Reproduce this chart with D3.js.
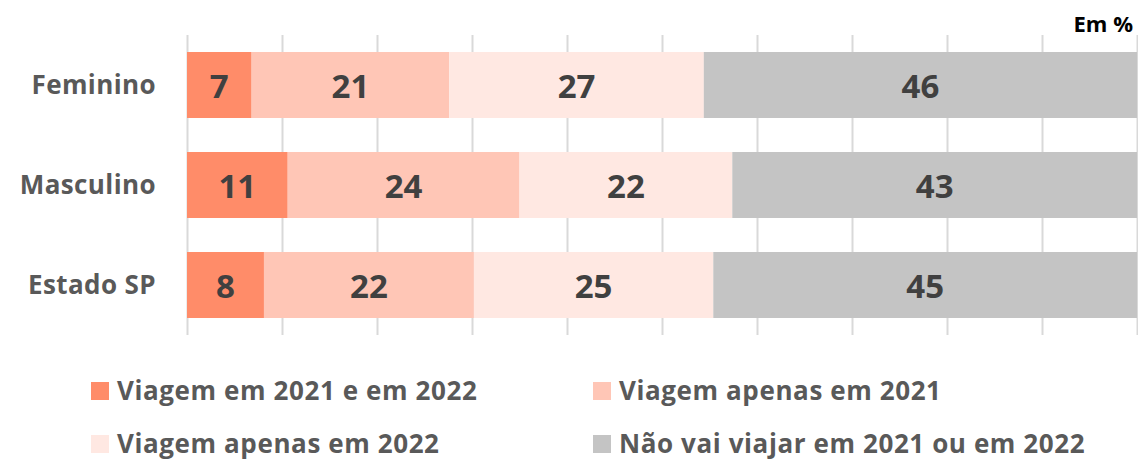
<!DOCTYPE html>
<html><head><meta charset="utf-8">
<script src="https://cdn.jsdelivr.net/npm/d3@7"></script>
<style>body{margin:0;background:#fff}svg{display:block}</style>
</head><body>
<svg id="c" width="1138" height="459"></svg>
<script>
const categories = ["Feminino", "Masculino", "Estado SP"];
const seriesNames = ["Viagem em 2021 e em 2022", "Viagem apenas em 2021", "Viagem apenas em 2022", "Não vai viajar em 2021 ou em 2022"];
const s1 = [6.8, 10.6, 8.1];
const s2 = [20.8, 24.4, 22.1];
const s3 = [26.8, 22.4, 25.2];
const s4 = [45.6, 42.6, 44.6];
const xTicks = [0,10,20,30,40,50,60,70,80,90,100];
const colors = ["#FF8C69", "#FFC6B6", "#FFE8E2", "#C4C4C4"];

const svg = d3.select("#c");
const font = "'Open Sans', Lato, sans-serif";
const x = d3.scaleLinear().domain([0,100]).range([187, 1137]);
const y = d3.scaleBand().domain(categories).range([35, 335]).paddingInner(0.34).paddingOuter(0.17);

// gridlines
svg.append("g")
  .attr("transform","translate(0,35)")
  .call(d3.axisBottom(x).tickValues(xTicks).tickSize(300).tickFormat(""))
  .call(g=>g.select(".domain").remove())
  .call(g=>g.selectAll("line").attr("stroke","#D9D9D9").attr("stroke-width",2));

const rows = categories.map((c,i)=>({cat:c, v:[s1[i],s2[i],s3[i],s4[i]]}));
const keys = [0,1,2,3];
const table = rows.map(r=>{const o={cat:r.cat}; keys.forEach(k=>o[k]=r.v[k]); return o;});
const stack = d3.stack().keys(keys)(table);

const layers = svg.append("g").selectAll("g").data(stack).join("g").attr("fill",(d,i)=>colors[i]);
layers.selectAll("rect").data(d=>d).join("rect")
  .attr("x",d=>x(d[0])).attr("width",d=>x(d[1])-x(d[0]))
  .attr("y",d=>y(d.data.cat)).attr("height",y.bandwidth());

svg.append("g").selectAll("g").data(stack).join("g").selectAll("text").data(d=>d).join("text")
  .attr("x",d=>(x(d[0])+x(d[1]))/2).attr("y",d=>y(d.data.cat)+y.bandwidth()/2+13)
  .attr("text-anchor","middle")
  .attr("font-family",font).attr("font-weight","bold").attr("font-size",33).attr("fill","#404040")
  .text(d=>Math.round(d[1]-d[0]));

// category labels
svg.append("g").selectAll("text").data(categories).join("text")
  .attr("x",156).attr("y",d=>y(d)+y.bandwidth()/2+9)
  .attr("text-anchor","end")
  .attr("font-family",font).attr("font-weight","bold").attr("font-size",26).attr("letter-spacing",0.4).attr("fill","#595959")
  .text(d=>d);

// Em %
svg.append("text").attr("x",1133).attr("y",32).attr("text-anchor","end")
  .attr("font-family",font).attr("font-weight","bold").attr("font-size",22).attr("fill","#000")
  .text("Em %");

// legend
const legPos = [[91,382],[593,382],[91,435],[593,435]];
const leg = svg.append("g").selectAll("g").data(seriesNames).join("g")
  .attr("transform",(d,i)=>`translate(${legPos[i][0]},${legPos[i][1]})`);
leg.append("rect").attr("width",18).attr("height",18).attr("fill",(d,i)=>colors[i]);
leg.append("text").attr("x",26).attr("y",17.5)
  .attr("font-family",font).attr("font-weight","bold").attr("font-size",26).attr("letter-spacing",0.6).attr("fill","#595959")
  .text(d=>d);
</script>
</body></html>
